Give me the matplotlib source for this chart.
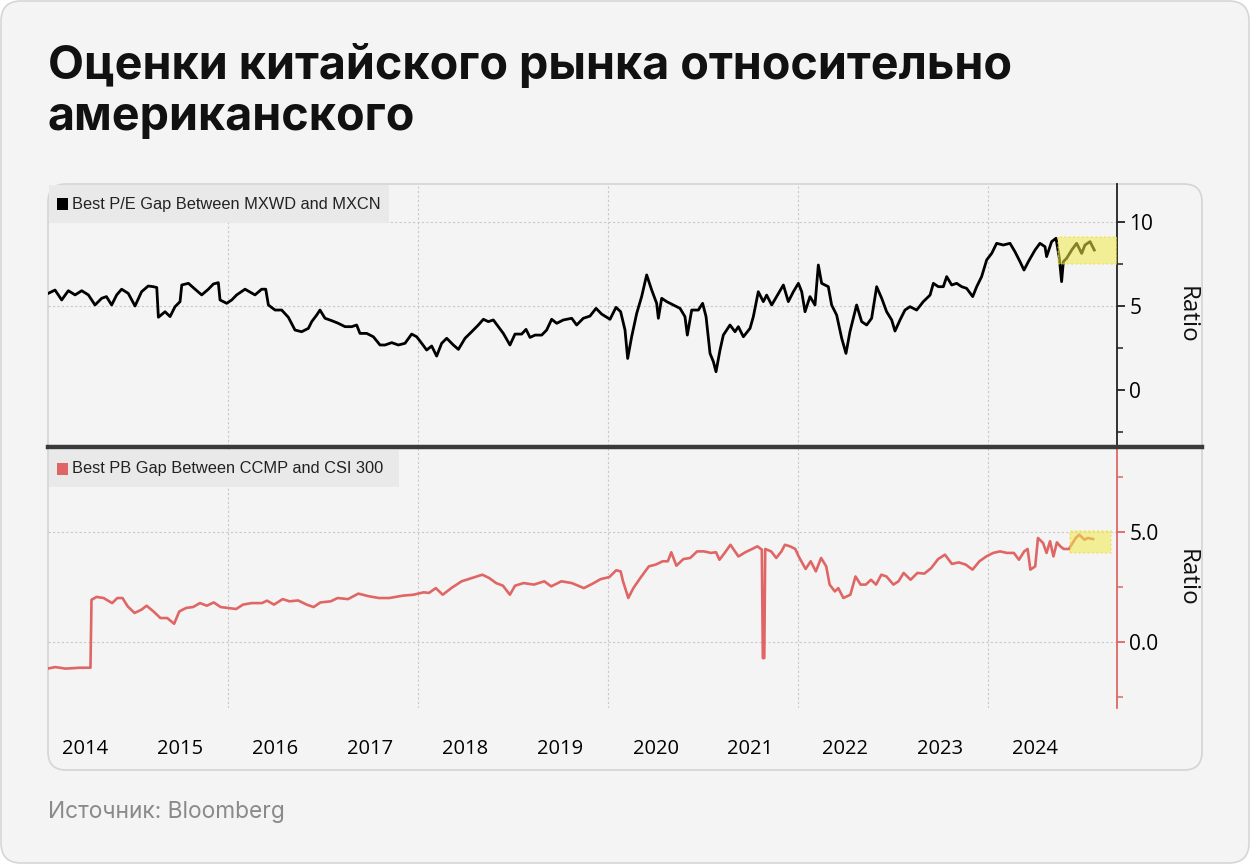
import matplotlib.pyplot as plt
from matplotlib.patches import FancyBboxPatch, Rectangle
from matplotlib.lines import Line2D
from matplotlib.ticker import MultipleLocator

# ---- data (decimal years) ----
pe_year = [
    2014.074, 2014.179, 2014.249, 2014.319, 2014.390, 2014.460, 2014.530, 2014.600, 2014.670, 2014.720,
    2014.775, 2014.828, 2014.880, 2014.950, 2015.021, 2015.090, 2015.160, 2015.214, 2015.250, 2015.267,
    2015.337, 2015.390, 2015.442, 2015.495, 2015.513, 2015.583, 2015.653, 2015.723, 2015.793, 2015.846,
    2015.898, 2015.916, 2015.986, 2016.039, 2016.091, 2016.179, 2016.284, 2016.354, 2016.397, 2016.425,
    2016.495, 2016.565, 2016.635, 2016.705, 2016.775, 2016.846, 2016.881, 2016.933, 2016.968, 2017.021,
    2017.091, 2017.161, 2017.232, 2017.302, 2017.354, 2017.389, 2017.460, 2017.530, 2017.600, 2017.653,
    2017.723, 2017.793, 2017.863, 2017.933, 2017.986, 2018.039, 2018.091, 2018.144, 2018.196, 2018.249,
    2018.302, 2018.372, 2018.425, 2018.495, 2018.565, 2018.635, 2018.688, 2018.740, 2018.793, 2018.846,
    2018.898, 2018.968, 2019.021, 2019.091, 2019.137, 2019.179, 2019.232, 2019.302, 2019.354, 2019.407,
    2019.460, 2019.530, 2019.618, 2019.670, 2019.740, 2019.810, 2019.874, 2019.933, 2020.021, 2020.084,
    2020.133, 2020.179, 2020.207, 2020.249, 2020.302, 2020.354, 2020.407, 2020.460, 2020.512, 2020.530,
    2020.565, 2020.618, 2020.688, 2020.758, 2020.810, 2020.835, 2020.881, 2020.951, 2020.996, 2021.032,
    2021.074, 2021.109, 2021.137, 2021.179, 2021.214, 2021.284, 2021.337, 2021.372, 2021.425, 2021.495,
    2021.530, 2021.582, 2021.635, 2021.670, 2021.723, 2021.775, 2021.846, 2021.898, 2021.951, 2022.004,
    2022.039, 2022.074, 2022.126, 2022.179, 2022.214, 2022.249, 2022.319, 2022.354, 2022.407, 2022.460,
    2022.505, 2022.547, 2022.617, 2022.670, 2022.723, 2022.775, 2022.828, 2022.881, 2022.933, 2022.986,
    2023.021, 2023.074, 2023.126, 2023.179, 2023.249, 2023.319, 2023.390, 2023.425, 2023.477, 2023.530,
    2023.565, 2023.618, 2023.670, 2023.723, 2023.775, 2023.839, 2023.881, 2023.933, 2023.986, 2024.039,
    2024.091, 2024.161, 2024.232, 2024.284, 2024.337, 2024.379, 2024.425, 2024.495, 2024.547, 2024.600,
    2024.617, 2024.670, 2024.716, 2024.751, 2024.775, 2024.793, 2024.828, 2024.881, 2024.933, 2024.986,
    2025.021, 2025.074, 2025.119,
]
pe_value = [
    5.66, 5.95, 5.36, 5.91, 5.66, 5.91, 5.66, 5.06, 5.46, 5.56,
    5.06, 5.66, 6.00, 5.75, 5.00, 5.85, 6.19, 6.15, 6.10, 4.33,
    4.66, 4.37, 4.96, 5.26, 6.25, 6.35, 6.00, 5.66, 6.00, 6.31,
    6.39, 5.36, 5.16, 5.36, 5.66, 6.00, 5.66, 6.00, 6.00, 5.06,
    4.76, 4.76, 4.33, 3.57, 3.47, 3.67, 4.07, 4.46, 4.76, 4.27,
    4.13, 3.97, 3.77, 3.77, 3.87, 3.37, 3.37, 3.17, 2.68, 2.68,
    2.82, 2.68, 2.78, 3.33, 3.17, 2.78, 2.38, 2.62, 2.02, 2.78,
    3.08, 2.68, 2.42, 3.08, 3.47, 3.87, 4.21, 4.07, 4.17, 3.77,
    3.37, 2.68, 3.33, 3.33, 3.61, 3.13, 3.27, 3.27, 3.57, 4.21,
    3.97, 4.17, 4.27, 3.87, 4.27, 4.40, 4.86, 4.52, 4.21, 4.92,
    4.66, 3.57, 1.88, 3.17, 4.56, 5.56, 6.85, 5.95, 5.16, 4.27,
    5.46, 5.26, 5.06, 4.86, 4.37, 3.27, 4.76, 4.76, 5.16, 4.37,
    2.18, 1.69, 1.09, 2.38, 3.27, 3.87, 3.47, 3.77, 3.17, 3.67,
    4.37, 5.85, 5.26, 5.65, 5.06, 5.56, 6.25, 5.26, 5.85, 6.35,
    5.85, 4.66, 5.56, 5.06, 7.44, 6.35, 6.15, 5.06, 4.46, 3.08,
    2.18, 3.47, 5.06, 4.07, 3.87, 4.27, 6.15, 5.46, 4.66, 4.17,
    3.51, 4.17, 4.76, 4.96, 4.76, 5.26, 5.65, 6.35, 6.15, 6.15,
    6.75, 6.25, 6.35, 6.15, 6.05, 5.56, 6.15, 6.75, 7.74, 8.13,
    8.73, 8.63, 8.73, 8.23, 7.64, 7.14, 7.64, 8.33, 8.73, 8.53,
    7.94, 8.83, 9.03, 7.84, 6.45, 7.64, 7.84, 8.33, 8.73, 8.13,
    8.63, 8.83, 8.33,
]

pb_year = [
    2014.074, 2014.182, 2014.291, 2014.436, 2014.552, 2014.563, 2014.617, 2014.690, 2014.780, 2014.835,
    2014.889, 2014.944, 2015.016, 2015.089, 2015.143, 2015.215, 2015.288, 2015.360, 2015.433, 2015.487,
    2015.560, 2015.632, 2015.705, 2015.777, 2015.850, 2015.922, 2015.995, 2016.085, 2016.158, 2016.248,
    2016.357, 2016.411, 2016.484, 2016.575, 2016.647, 2016.738, 2016.828, 2016.901, 2016.973, 2017.082,
    2017.154, 2017.263, 2017.372, 2017.481, 2017.589, 2017.698, 2017.843, 2017.952, 2018.060, 2018.115,
    2018.187, 2018.260, 2018.350, 2018.459, 2018.568, 2018.677, 2018.749, 2018.822, 2018.894, 2018.967,
    2019.021, 2019.112, 2019.220, 2019.329, 2019.402, 2019.510, 2019.619, 2019.746, 2019.850, 2019.923,
    2020.013, 2020.086, 2020.133, 2020.158, 2020.195, 2020.213, 2020.267, 2020.340, 2020.430, 2020.503,
    2020.575, 2020.630, 2020.666, 2020.720, 2020.793, 2020.865, 2020.938, 2021.010, 2021.083, 2021.137,
    2021.173, 2021.228, 2021.289, 2021.373, 2021.445, 2021.518, 2021.572, 2021.619, 2021.630, 2021.645,
    2021.655, 2021.717, 2021.771, 2021.826, 2021.862, 2021.916, 2021.971, 2022.007, 2022.080, 2022.134,
    2022.188, 2022.243, 2022.297, 2022.333, 2022.388, 2022.424, 2022.478, 2022.551, 2022.605, 2022.659,
    2022.714, 2022.768, 2022.822, 2022.877, 2022.931, 2023.004, 2023.058, 2023.112, 2023.185, 2023.257,
    2023.330, 2023.402, 2023.475, 2023.547, 2023.620, 2023.692, 2023.765, 2023.837, 2023.910, 2023.982,
    2024.055, 2024.127, 2024.200, 2024.272, 2024.326, 2024.381, 2024.417, 2024.446, 2024.497, 2024.526,
    2024.580, 2024.616, 2024.653, 2024.689, 2024.725, 2024.761, 2024.797, 2024.852, 2024.924, 2024.961,
    2025.015, 2025.051, 2025.106,
]
pb_value = [
    -1.23, -1.14, -1.21, -1.17, -1.17, 1.92, 2.05, 2.00, 1.77, 2.00,
    2.00, 1.62, 1.32, 1.47, 1.65, 1.39, 1.09, 1.09, 0.83, 1.39,
    1.55, 1.59, 1.77, 1.65, 1.80, 1.59, 1.55, 1.50, 1.70, 1.77,
    1.77, 1.88, 1.70, 1.95, 1.85, 1.89, 1.70, 1.59, 1.80, 1.85,
    2.00, 1.95, 2.20, 2.08, 2.00, 2.00, 2.11, 2.15, 2.26, 2.23,
    2.45, 2.15, 2.45, 2.76, 2.91, 3.06, 2.91, 2.68, 2.56, 2.15,
    2.56, 2.68, 2.61, 2.76, 2.53, 2.76, 2.68, 2.45, 2.68, 2.86,
    2.95, 3.26, 3.21, 2.76, 2.26, 2.00, 2.45, 2.91, 3.44, 3.52,
    3.67, 3.67, 4.08, 3.47, 3.77, 3.82, 4.12, 4.12, 4.05, 4.08,
    3.74, 4.05, 4.42, 3.89, 4.08, 4.23, 4.35, 4.20, -0.73, -0.73,
    4.23, 4.12, 3.82, 4.12, 4.42, 4.35, 4.23, 3.89, 3.32, 3.67,
    3.21, 3.82, 3.44, 2.61, 2.30, 2.45, 2.00, 2.15, 2.98, 2.61,
    2.61, 2.83, 2.61, 3.06, 2.98, 2.61, 2.76, 3.14, 2.83, 3.14,
    3.11, 3.36, 3.77, 3.97, 3.55, 3.62, 3.52, 3.29, 3.67, 3.89,
    4.05, 4.12, 4.05, 4.05, 3.74, 4.12, 4.23, 3.29, 3.44, 4.73,
    4.50, 4.05, 4.58, 3.89, 4.53, 4.35, 4.23, 4.23, 4.73, 4.88,
    4.65, 4.73, 4.68,
]

year_labels = list(range(2014, 2025))
grid_years = [2016, 2018, 2020, 2022, 2024]
pe_highlight = (2024.74, 7.5, 9.1)   # start, low, high
pb_highlight = (2024.86, 2025.29, 4.05, 5.05)

W, H = 1250, 864
BG = '#f4f4f4'
RED = '#e06666'
GRID = '#c9c9c9'
TICKFONT = 'Open Sans'

fig = plt.figure(figsize=(W / 100, H / 100), dpi=100, facecolor='white')


def pbox(x0, y0, x1, y1, **kw):
    # box in pixel coords, origin top-left
    return FancyBboxPatch((x0 / 100, (H - y1) / 100), (x1 - x0) / 100, (y1 - y0) / 100,
                          transform=fig.dpi_scale_trans, **kw)


fig.add_artist(pbox(1, 1, W - 1, H - 1, boxstyle='round,pad=0,rounding_size=0.2',
                    fc=BG, ec='#d6d6d6', lw=1.2, zorder=-10))
fig.add_artist(pbox(48, 184, 1202, 770, boxstyle='round,pad=0,rounding_size=0.18',
                    fc=BG, ec='#d4d4d4', lw=1.2, zorder=-9))

fig.text(48 / W, 1 - 44 / H, 'Оценки китайского рынка относительно\nамериканского',
         fontsize=33.6, fontweight='bold', family='Inter', va='top', ha='left',
         linespacing=1.2, color='#111111')
fig.text(48 / W, 1 - 812 / H, 'Источник: Bloomberg', fontsize=16.4, family='Inter',
         va='center', ha='left', color='#8a8a8a')

x0, x1 = 2014.105, 2025.358
ax1 = fig.add_axes([48 / W, 1 - 446 / H, 1069 / W, 262 / H], facecolor='none')
ax2 = fig.add_axes([48 / W, 1 - 708 / H, 1069 / W, 260 / H], facecolor='none')

# top panel
ax1.plot(pe_year, pe_value, color='black', lw=2.0, zorder=3)
ax1.set_xlim(x0, x1)
ax1.set_ylim(-3.33, 12.26)
for y in [5, 10]:
    ax1.axhline(y, color=GRID, lw=0.8, ls=(0, (2, 2)), zorder=1)
ax1.add_patch(Rectangle((pe_highlight[0], pe_highlight[1]), x1 - pe_highlight[0],
                        pe_highlight[2] - pe_highlight[1], fc='#f2ea4a', alpha=0.55,
                        ec='#e8dc20', ls=':', lw=1.2, zorder=4))

# bottom panel
ax2.plot(pb_year, pb_value, color=RED, lw=1.9, zorder=3)
ax2.set_xlim(x0, x1)
ax2.set_ylim(-3.0, 8.82)
for y in [0, 5]:
    ax2.axhline(y, color=GRID, lw=0.8, ls=(0, (2, 2)), zorder=1)
ax2.add_patch(Rectangle((pb_highlight[0], pb_highlight[2]), pb_highlight[1] - pb_highlight[0],
                        pb_highlight[3] - pb_highlight[2], fc='#f2ea4a', alpha=0.55,
                        ec='#e8dc20', ls=':', lw=1.2, zorder=4))

for ax, spc in [(ax1, '#222222'), (ax2, RED)]:
    for g in grid_years:
        ax.axvline(g, color=GRID, lw=0.8, ls=(0, (2, 2)), zorder=1)
    for s in ['left', 'top', 'bottom']:
        ax.spines[s].set_visible(False)
    ax.spines['right'].set_color(spc)
    ax.spines['right'].set_linewidth(1.3)
    ax.yaxis.tick_right()
    ax.yaxis.set_minor_locator(MultipleLocator(2.5))
    ax.tick_params(axis='y', which='major', direction='out', length=6, width=1.3,
                   color=spc, labelsize=15, pad=3)
    ax.tick_params(axis='y', which='minor', direction='out', length=4, width=1.1, color=spc)
    ax.text(1.0655, 0.5, 'Ratio', transform=ax.transAxes, rotation=270, va='center',
            ha='center', fontsize=17.5, family=TICKFONT, color='#111111')

ax1.set_yticks([0, 5, 10])
ax1.set_yticklabels(['0', '5', '10'], family=TICKFONT)
ax1.set_xticks([])
ax2.set_yticks([0, 5])
ax2.set_yticklabels(['0.0', '5.0'], family=TICKFONT)
ax2.set_xticks([y + 0.5 for y in year_labels])
ax2.set_xticklabels([str(y) for y in year_labels], family=TICKFONT)
ax2.tick_params(axis='x', length=0, labelsize=14.5, pad=22)

# divider between the panels
fig.add_artist(Line2D([48 / W, 1202 / W], [1 - 447 / H, 1 - 447 / H], color='#3a3a3a',
                      lw=3.2, transform=fig.transFigure, zorder=6))

# legend boxes
for (ytop, ybot, col, label, right) in [
        (185, 223, 'black', 'Best P/E Gap Between MXWD and MXCN', 389),
        (450, 487, RED, 'Best PB Gap Between CCMP and CSI 300', 399)]:
    fig.add_artist(pbox(49, ytop, right, ybot, boxstyle='square,pad=0', fc='#e9e9e9',
                        ec='none', zorder=5))
    yc = (ytop + ybot) / 2
    fig.add_artist(pbox(57, yc - 6, 68, yc + 6, boxstyle='square,pad=0', fc=col,
                        ec='none', zorder=6))
    fig.text(72 / W, 1 - yc / H, label, fontsize=11.8, family='Liberation Sans',
             va='center', ha='left', color='#222222', zorder=6)

fig.savefig('out.png', dpi=100, facecolor=fig.get_facecolor())
